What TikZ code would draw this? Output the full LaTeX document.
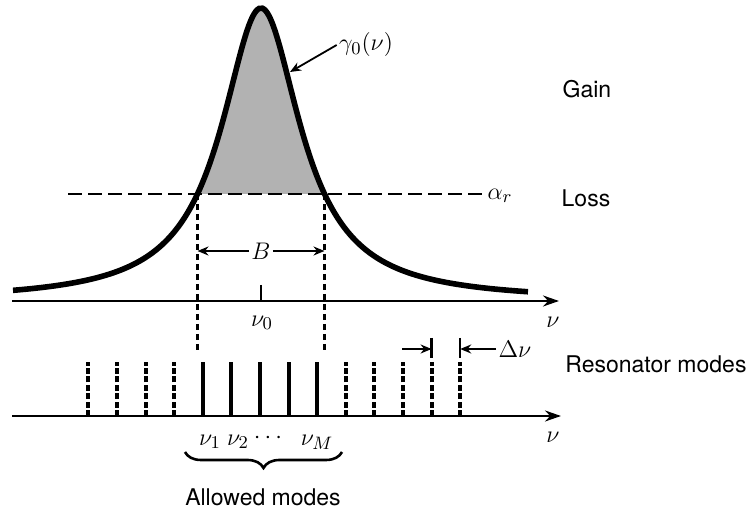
\documentclass[tikz,border=0pt]{standalone}
\usepackage{fontspec}
\setsansfont{TeX Gyre Heros}
\usepackage{tikz}
\usetikzlibrary{arrows.meta,decorations.pathreplacing,calc}

\begin{document}
\begin{tikzpicture}[x=0.5pt,y=-0.5pt,
    axis/.style={line width=1.2pt, -{Stealth[length=8pt,width=5.5pt]}},
    gaincurve/.style={line width=2.8pt},
    lossline/.style={line width=0.9pt, dash pattern=on 7pt off 3pt},
    guide/.style={line width=1.1pt, dash pattern=on 3pt off 2pt},
    mode/.style={line width=2pt},
    dmode/.style={mode, dash pattern=on 3pt off 1.2pt},
    ptr/.style={line width=0.9pt, -{Stealth[length=5.5pt,width=4.5pt]}},
    lbl/.style={font=\sffamily\fontsize{11.5}{14}\selectfont},
    sym/.style={font=\fontsize{12.5}{15}\selectfont, inner sep=1pt},
  ]
  \useasboundingbox (0,0) rectangle (752,508);

  % gain above loss
  \fill[black!30] plot[domain=197.5:324.5, samples=80]
    (\x,{301-293/(1+((\x-261)/48.2)^2)}) -- cycle;

  % loss line
  \node[sym] (alpha) at (500,196) {$\alpha_r$};
  \coordinate (lossL) at (68,194);
  \draw[lossline] (lossL) -- (alpha.west |- lossL);

  % gain curve
  \draw[gaincurve] plot[domain=13:528, samples=160, smooth]
    (\x,{301-293/(1+((\x-261)/48.2)^2)});
  \node[sym] (gam) at (366,45) {$\gamma_0(\nu)$};
  \coordinate (gtip) at (290,72);
  \draw[ptr] (gam.west) -- (gtip);

  % upper axis
  \coordinate (axAL) at (12,301);
  \coordinate (axAR) at (559,301);
  \draw[axis] (axAL) -- (axAR);
  \node[sym] (nuA) at (553,322) {$\nu$};
  \coordinate (tick) at (261,285);
  \draw[line width=1.2pt] (tick) -- (tick |- axAL);
  \node[sym] (nu0) at (262,323) {$\nu_0$};

  % bandwidth
  \coordinate (bL) at (197.5,194);
  \coordinate (bR) at (324.5,194);
  \draw[guide] (bL) -- ++(0,158);
  \draw[guide] (bR) -- ++(0,158);
  \node[sym, font=\fontsize{13}{15}\selectfont] (B) at (261,251) {$B$};
  \draw[ptr] (B.west) -- (B -| bL);
  \draw[ptr] (B.east) -- (B -| bR);

  % resonator modes
  \coordinate (axBL) at (12,416);
  \coordinate (axBR) at (561,416);
  \draw[axis] (axBL) -- (axBR);
  \node[sym] (nuB) at (553,437) {$\nu$};
  \foreach \k in {-2,...,2}
    \draw[mode] ({260+28.6*\k},416) -- ++(0,-54);
  \foreach \k in {-6,...,-3,3,4,...,7}
    \draw[dmode] ({260+28.6*\k},416) -- ++(0,-54);

  % mode spacing
  \coordinate (dA) at (431.6,338);
  \coordinate (dB) at (460.2,338);
  \draw[line width=1.2pt] (dA) -- ++(0,20);
  \draw[line width=1.2pt] (dB) -- ++(0,20);
  \node[sym] (dnu) at (515,349) {$\Delta\nu$};
  \coordinate (dAL) at (402,349);
  \draw[ptr] (dAL) -- (dAL -| dA);
  \draw[ptr] (dnu.west) -- (dnu.west -| dB);

  % allowed modes
  \node[sym] (n1) at (210,442) {$\nu_1$};
  \node[sym] (n2) at (238,442) {$\nu_2$};
  \node[sym] (ndots) at (268,438) {$\cdots$};
  \node[sym] (nM) at (317,442) {$\nu_M$};
  \coordinate (brL) at (185,452);
  \coordinate (brR) at (342,452);
  \draw[line width=1.3pt, decorate,
    decoration={brace, mirror, amplitude=8pt}] (brL) -- (brR);
  \node[lbl] (allowed) at (263,497) {Allowed modes};

  % labels
  \node[lbl] (gain) at (587,89) {Gain};
  \node[lbl] (loss) at (586,198) {Loss};
  \node[lbl] (reso) at (656,364) {Resonator modes};
\end{tikzpicture}
\end{document}
